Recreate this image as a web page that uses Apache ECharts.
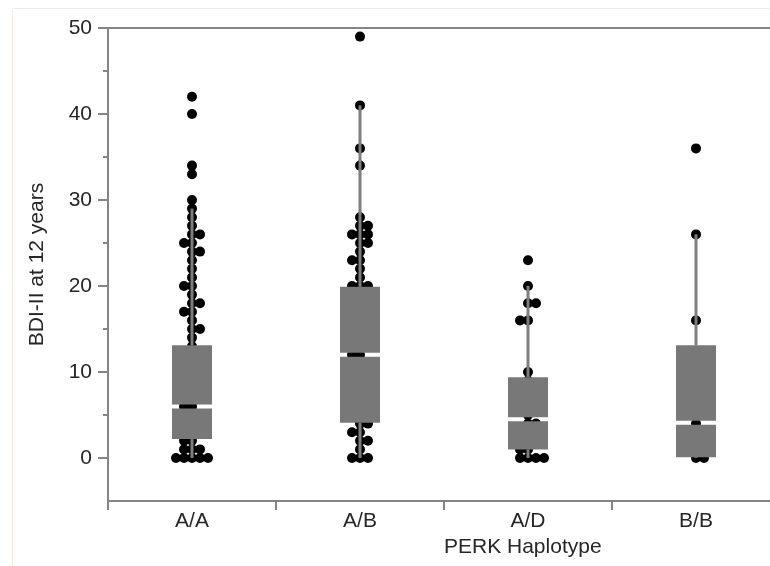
<!DOCTYPE html>
<html>
<head>
<meta charset="utf-8">
<script src="https://cdn.jsdelivr.net/npm/echarts@6/dist/echarts.min.js"></script>
<style>
html,body{margin:0;padding:0;background:#fff;}
#chart{width:770px;height:566px;}
</style>
</head>
<body>
<div id="chart"></div>
<script>
// ---- Data ----
const categories = ['A/A', 'A/B', 'A/D', 'B/B'];

// individual BDI-II scores per haplotype (descending)
const valuesAA = [42, 40, 34, 33, 30, 29, 28, 27, 26, 26, 25, 25, 24, 24, 23, 22, 21, 20, 20, 19, 18, 18, 17, 17, 16, 15, 15, 14, 13, 12, 11, 11, 11, 10, 9, 8, 8, 8, 7, 6, 6, 5, 4, 4, 3, 2, 2, 1, 1, 1, 0, 0, 0, 0, 0];
const valuesAB = [49, 41, 36, 34, 28, 27, 27, 26, 26, 26, 25, 25, 24, 23, 23, 22, 21, 20, 20, 20, 19, 18, 16, 14, 12, 12, 10, 8, 6, 5, 4, 4, 3, 3, 2, 2, 1, 0, 0, 0];
const valuesAD = [23, 20, 18, 18, 16, 16, 10, 9, 8, 7, 6, 5, 4, 4, 3, 2, 1, 1, 0, 0, 0, 0];
const valuesBB = [36, 26, 16, 12, 8, 5, 4, 3, 1, 0, 0];

// box statistics: [lower whisker, Q1, median, Q3, upper whisker]
const boxAA = [0, 2.2, 6.0, 13.1, 29];
const boxAB = [0, 4.1, 12.0, 19.9, 41];
const boxAD = [0, 1.0, 4.5, 9.4, 20];
const boxBB = [0, 0.1, 4.1, 13.1, 26];

const yTickLabels = [0, 10, 20, 30, 40, 50];
const yMinorTicks = [5, 15, 25, 35, 45];

// ---- Build series ----
const groups = [valuesAA, valuesAB, valuesAD, valuesBB];
const boxes = [boxAA, boxAB, boxAD, boxBB];
const STEP = 8; // px between stacked duplicate points

function swarm(values, catIndex) {
  const counts = new Map();
  values.forEach(v => counts.set(v, (counts.get(v) || 0) + 1));
  const uniq = Array.from(counts.keys()).sort((a, b) => b - a);
  let dir = 1;
  const out = [];
  uniq.forEach(v => {
    const c = counts.get(v);
    for (let k = 0; k < c; k++) {
      let off = 0;
      if (k > 0) {
        const m = Math.ceil(k / 2);
        const side = (k % 2 === 1) ? dir : -dir;
        off = side * m * STEP;
      }
      out.push({ value: [catIndex, v], symbolOffset: [off, 0] });
    }
    if (c > 1) dir = -dir;
  });
  return out;
}

let scatterData = [];
groups.forEach((g, i) => { scatterData = scatterData.concat(swarm(g, i)); });

const boxData = boxes.map((b, i) => [i].concat(b));

function renderBox(params, api) {
  const x = api.value(0);
  const low = api.coord([x, api.value(1)]);
  const q1 = api.coord([x, api.value(2)]);
  const med = api.coord([x, api.value(3)]);
  const q3 = api.coord([x, api.value(4)]);
  const high = api.coord([x, api.value(5)]);
  const cx = low[0];
  const half = 20;
  const gap = 2;
  const boxFill = '#787878';
  const wStyle = { stroke: '#7e7e7e', lineWidth: 3 };
  return {
    type: 'group',
    children: [
      { type: 'line', shape: { x1: cx, y1: low[1], x2: cx, y2: q1[1] }, style: wStyle },
      { type: 'line', shape: { x1: cx, y1: q3[1], x2: cx, y2: high[1] }, style: wStyle },
      { type: 'rect', shape: { x: cx - half, y: med[1] + gap, width: half * 2, height: Math.max(0, q1[1] - med[1] - gap) }, style: { fill: boxFill } },
      { type: 'rect', shape: { x: cx - half, y: q3[1], width: half * 2, height: Math.max(0, med[1] - gap - q3[1]) }, style: { fill: boxFill } }
    ]
  };
}

const axisGray = '#858585';
const textColor = '#262626';
const fontFamily = 'Liberation Sans, Arial, sans-serif';

const chart = echarts.init(document.getElementById('chart'), null, { renderer: 'canvas' });
chart.setOption({
  backgroundColor: '#ffffff',
  animation: false,
  graphic: [
    { type: 'rect', left: 10, top: 6, shape: { width: 790, height: 600 }, style: { fill: 'none', stroke: '#f1ede0', lineWidth: 1 }, silent: true, z: -10 },
    { type: 'text', left: 444, top: 537, style: { text: 'PERK Haplotype', fill: textColor, font: '21px ' + fontFamily } }
  ],
  grid: {
    left: 108, top: 28, width: 672, bottom: 65,
    outerBoundsMode: 'none', containLabel: false,
    show: true, borderColor: axisGray, borderWidth: 2, backgroundColor: 'transparent'
  },
  xAxis: {
    type: 'category',
    data: categories,
    boundaryGap: true,
    axisLine: { show: true, onZero: false, lineStyle: { color: axisGray, width: 2 } },
    axisTick: { show: true, length: 9, lineStyle: { color: axisGray, width: 2 } },
    axisLabel: { color: textColor, fontSize: 21, fontFamily: fontFamily, margin: 10 },
    splitLine: { show: false }
  },
  yAxis: [
    {
      type: 'value', min: -5, max: 50, position: 'left',
      name: 'BDI-II at 12 years', nameLocation: 'middle', nameGap: 60,
      nameTextStyle: { color: textColor, fontSize: 21, fontFamily: fontFamily },
      axisLine: { show: true, onZero: false, lineStyle: { color: axisGray, width: 2 } },
      axisTick: { show: true, length: 10, customValues: yTickLabels, lineStyle: { color: axisGray, width: 2 } },
      axisLabel: { customValues: yTickLabels, color: textColor, fontSize: 21, fontFamily: fontFamily, margin: 16 },
      splitLine: { show: false }
    },
    {
      type: 'value', min: -5, max: 50, position: 'left', offset: 0,
      axisLine: { show: false, onZero: false },
      axisTick: { show: true, length: 5, customValues: yMinorTicks, lineStyle: { color: axisGray, width: 2 } },
      axisLabel: { show: false },
      splitLine: { show: false }
    }
  ],
  series: [
    {
      type: 'scatter',
      yAxisIndex: 0,
      data: scatterData,
      symbol: 'circle',
      symbolSize: 10,
      itemStyle: { color: '#000000', opacity: 1 },
      z: 2,
      silent: true
    },
    {
      type: 'custom',
      yAxisIndex: 0,
      data: boxData,
      encode: { x: 0, y: [1, 2, 3, 4, 5] },
      renderItem: renderBox,
      z: 3,
      silent: true
    }
  ]
});
</script>
</body>
</html>
